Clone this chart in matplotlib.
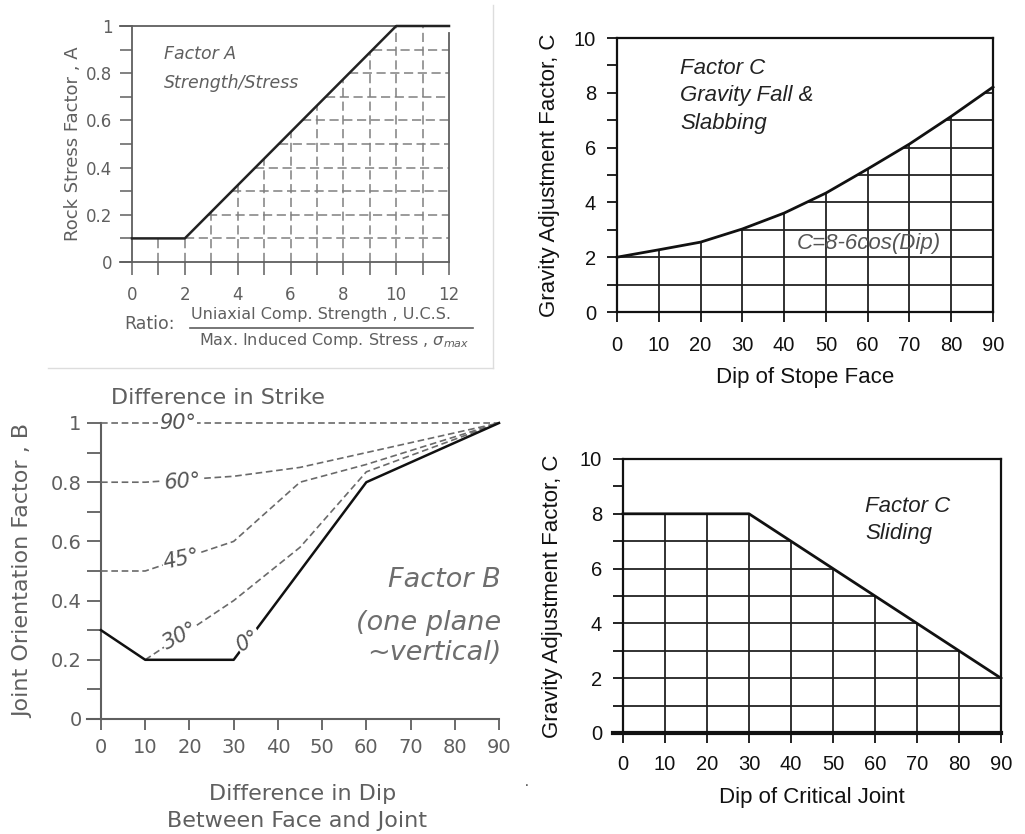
import numpy as np
import matplotlib
matplotlib.use('Agg')
from matplotlib import pyplot as plt
from matplotlib.lines import Line2D

# ---- data ----
a_ratio = [0, 2, 10, 12]
a_factor = [0.1, 0.1, 1.0, 1.0]
a_yticklabels = ['0', '0.2', '0.4', '0.6', '0.8', '1']

b_dip_0 = [0, 10, 30, 60, 90]
b_val_0 = [0.3, 0.2, 0.2, 0.8, 1.0]
b_dip_30 = [10, 30, 45, 60, 90]
b_val_30 = [0.2, 0.4, 0.58, 0.835, 1.0]
b_dip_45 = [0, 10, 30, 45, 60, 90]
b_val_45 = [0.5, 0.5, 0.6, 0.8, 0.86, 1.0]
b_dip_60 = [0, 10, 30, 45, 60, 90]
b_val_60 = [0.8, 0.8, 0.82, 0.85, 0.9, 1.0]
b_dip_90 = [0, 90]
b_val_90 = [1.0, 1.0]
b_yticklabels = ['0', '0.2', '0.4', '0.6', '0.8', '1']

c_dip = [0, 10, 20, 30, 40, 50, 60, 70, 80, 90]
c_val = [2.0, 2.27, 2.55, 3.03, 3.61, 4.34, 5.22, 6.13, 7.14, 8.21]

d_dip = [0, 30, 90]
d_val = [8, 8, 2]

W, H = 1025, 834
plt.rcParams['font.family'] = ['Liberation Sans', 'DejaVu Sans']
plt.rcParams['mathtext.fontset'] = 'dejavusans'

fig = plt.figure(figsize=(W/100, H/100), dpi=100)


def rect(x0, x1, ytop, ybot):
    return [x0/W, 1-ybot/H, (x1-x0)/W, (ybot-ytop)/H]


def fx(px):
    return px/W


def fy(py):
    return 1-py/H


grey = '#5f5f5f'
lgrey = '#808080'
dv = 'DejaVu Sans'

# ================= Factor A =================
axA = fig.add_axes(rect(132, 449, 26, 262))
axA.set_xlim(0, 12)
axA.set_ylim(0, 1)
for s in axA.spines.values():
    s.set_visible(False)
xg = np.arange(1, 12)
axA.vlines(xg, 0, np.interp(xg, a_ratio, a_factor), colors=lgrey,
           linestyles=(0, (6, 3)), lw=1.1)
yg = np.arange(1, 10)/10
axA.hlines(yg, np.interp(yg, a_factor[1:3], a_ratio[1:3]), 12, colors=lgrey,
           linestyles=(0, (6, 3)), lw=1.1)
axA.plot([-0.45, 12], [0, 0], color=grey, lw=1.3, clip_on=False)
axA.plot([0, 0], [0, 1], color=grey, lw=1.3, clip_on=False)
axA.plot([-0.45, 10], [1, 1], color=grey, lw=1.3, clip_on=False)
axA.plot([12, 12], [0, 0.97], color=grey, lw=1.3, clip_on=False)
axA.plot(a_ratio, a_factor, color='#222222', lw=1.8, clip_on=False, zorder=5)
axA.set_xticks(range(0, 13, 2))
axA.set_xticks(range(1, 13, 2), minor=True)
axA.set_yticks(np.arange(0, 1.01, 0.2))
axA.set_yticks(np.arange(0.1, 1.0, 0.2), minor=True)
axA.set_yticklabels(a_yticklabels)
axA.tick_params(which='both', direction='out', length=9, width=1.1, color=grey,
                labelcolor=grey, labelsize=12, pad=5)
axA.tick_params(axis='x', pad=8)
for t in axA.get_xticklabels() + axA.get_yticklabels():
    t.set_fontfamily(dv)
axA.set_ylabel('Rock Stress Factor , A', color=grey, fontsize=13, family=dv)
axA.yaxis.set_label_coords(-0.158, 0.5)
axA.text(1.2, 0.88, 'Factor A', style='italic', color=grey, fontsize=12.5,
         va='center', family=dv)
axA.text(1.2, 0.76, 'Strength/Stress', style='italic', color=grey, fontsize=12.5,
         va='center', family=dv)
fig.text(fx(124), fy(324), 'Ratio:', color=grey, fontsize=12.5, va='center',
         family=dv)
fig.text(fx(321), fy(314), 'Uniaxial Comp. Strength , U.C.S.', color=grey,
         fontsize=11.5, ha='center', va='center', family=dv)
fig.text(fx(334), fy(340), r'Max. Induced Comp. Stress , $\sigma_{max}$',
         color=grey, fontsize=11.5, ha='center', va='center', family=dv)
fig.add_artist(Line2D([fx(190), fx(473)], [fy(328), fy(328)], color=grey, lw=1.2))
fig.add_artist(Line2D([fx(493), fx(493)], [fy(5), fy(368)], color='#dddddd', lw=1))
fig.add_artist(Line2D([fx(48), fx(493)], [fy(368), fy(368)], color='#dddddd', lw=1))

# ================= Factor B =================
axB = fig.add_axes(rect(101, 499, 423, 719))
axB.set_xlim(0, 90)
axB.set_ylim(0, 1)
for s in axB.spines.values():
    s.set_visible(False)
axB.plot([-3.2, 90], [0, 0], color=grey, lw=1.5, clip_on=False)
axB.plot([0, 0], [0, 1], color=grey, lw=1.5, clip_on=False)
dash = (0, (4, 2.2))
for dx, dvl in [(b_dip_90, b_val_90), (b_dip_60, b_val_60),
                (b_dip_45, b_val_45), (b_dip_30, b_val_30)]:
    axB.plot(dx, dvl, color='#6a6a6a', lw=1.2, ls=dash, clip_on=False)
axB.plot(b_dip_0, b_val_0, color='#111111', lw=1.8, clip_on=False)
lab = dict(style='italic', color='#555555', fontsize=15, ha='center', family=dv,
           va='center', bbox=dict(boxstyle='square,pad=0.05', fc='white', ec='none'))
axB.text(17.4, 1.0, '90°', **lab)
axB.text(18.4, 0.80, '60°', rotation=4, **lab)
axB.text(18.2, 0.54, '45°', rotation=12, **lab)
axB.text(17.9, 0.28, '30°', rotation=28, **lab)
axB.text(33.3, 0.265, '0°', rotation=30, **lab)
axB.set_xticks(range(0, 91, 10))
axB.set_yticks(np.arange(0, 1.01, 0.2))
axB.set_yticks(np.arange(0.1, 1.0, 0.2), minor=True)
axB.set_yticklabels(b_yticklabels)
axB.tick_params(which='both', axis='y', direction='out', length=10, width=1.3,
                color=grey, labelcolor=grey, labelsize=14, pad=4)
axB.tick_params(axis='x', direction='out', length=8, width=1.3,
                color=grey, labelcolor=grey, labelsize=14, pad=6)
for t in axB.get_xticklabels() + axB.get_yticklabels():
    t.set_fontfamily(dv)
axB.set_ylabel('Joint Orientation Factor , B', color=grey, fontsize=16, family=dv)
axB.yaxis.set_label_coords(-0.171, 0.5)
fig.text(fx(218), fy(398), 'Difference in Strike', color=grey, fontsize=16,
         ha='center', va='center', family=dv)
fig.text(fx(303), fy(794), 'Difference in Dip', color=grey, fontsize=16,
         ha='center', va='center', family=dv)
fig.text(fx(297), fy(821), 'Between Face and Joint', color=grey, fontsize=16,
         ha='center', va='center', family=dv)
for txt, yy in [('Factor B', 580), ('(one plane', 623), ('~vertical)', 653)]:
    fig.text(fx(501), fy(yy), txt, style='italic', color='#6e6e6e', fontsize=19.5,
             ha='right', va='center', family=dv)

# ================= Factor C (gravity fall) =================
axC = fig.add_axes(rect(617, 993, 38, 312))
axC.set_xlim(0, 90)
axC.set_ylim(0, 10)
for s in axC.spines.values():
    s.set_linewidth(1.6)
    s.set_color('#111111')
axC.vlines(c_dip[1:-1], 0, c_val[1:-1], colors='#222222', lw=1.3)
cg = np.arange(1, 9)
axC.hlines(cg, np.interp(cg, c_val, c_dip), 90, colors='#222222', lw=1.3)
axC.plot(c_dip, c_val, color='#111111', lw=2.0, clip_on=False, zorder=5)
axC.set_xticks(range(0, 91, 10))
axC.set_yticks(range(0, 11, 2))
axC.set_yticks(range(1, 10, 2), minor=True)
axC.tick_params(which='both', direction='out', length=7, width=1.3,
                color='#111111', labelcolor='#111111', labelsize=14.5)
axC.tick_params(axis='y', pad=8)
axC.tick_params(axis='x', pad=10)
axC.set_xlabel('Dip of Stope Face', fontsize=16, color='#111111', labelpad=9)
axC.set_ylabel('Gravity Adjustment Factor, C', fontsize=16, color='#111111')
axC.yaxis.set_label_coords(-0.152, 0.5)
for txt, yy in [('Factor C', 68), ('Gravity Fall &', 96), ('Slabbing', 124)]:
    fig.text(fx(680), fy(yy), txt, style='italic', color='#222222', fontsize=16,
             va='center')
fig.text(fx(797), fy(243), 'C=8-6cos(Dip)', style='italic', color='#555555',
         fontsize=16, va='center')

# ================= Factor C (sliding) =================
axD = fig.add_axes(rect(623, 1001, 459, 733))
axD.set_xlim(0, 90)
axD.set_ylim(0, 10)
for s in axD.spines.values():
    s.set_linewidth(1.6)
    s.set_color('#111111')
axD.spines['bottom'].set_visible(False)
xd = np.arange(10, 90, 10)
axD.vlines(xd, 0, np.interp(xd, d_dip, d_val), colors='#222222', lw=1.3)
dg = np.arange(1, 8)
axD.hlines(dg, 0, np.interp(-dg, [-v for v in d_val[1:]], d_dip[1:]),
           colors='#222222', lw=1.3)
axD.plot(d_dip, d_val, color='#111111', lw=2.0, clip_on=False, zorder=5)
axD.plot([-2.5, 90], [0, 0], color='#111111', lw=3, clip_on=False, zorder=6)
axD.set_xticks(range(0, 91, 10))
axD.set_yticks(range(0, 11, 2))
axD.set_yticks(range(1, 10, 2), minor=True)
axD.tick_params(which='both', direction='out', length=7, width=1.3,
                color='#111111', labelcolor='#111111', labelsize=14.5)
axD.tick_params(axis='y', pad=8)
axD.tick_params(axis='x', pad=9)
axD.set_xlabel('Dip of Critical Joint', fontsize=16, color='#111111', labelpad=9)
axD.set_ylabel('Gravity Adjustment Factor, C', fontsize=16, color='#111111')
axD.yaxis.set_label_coords(-0.159, 0.5)
for txt, yy in [('Factor C', 506), ('Sliding', 533)]:
    fig.text(fx(865), fy(yy), txt, style='italic', color='#222222', fontsize=16,
             va='center')
fig.text(fx(525), fy(786), '.', color='#333333', fontsize=10)

fig.savefig('out.png', dpi=100, facecolor='white')
